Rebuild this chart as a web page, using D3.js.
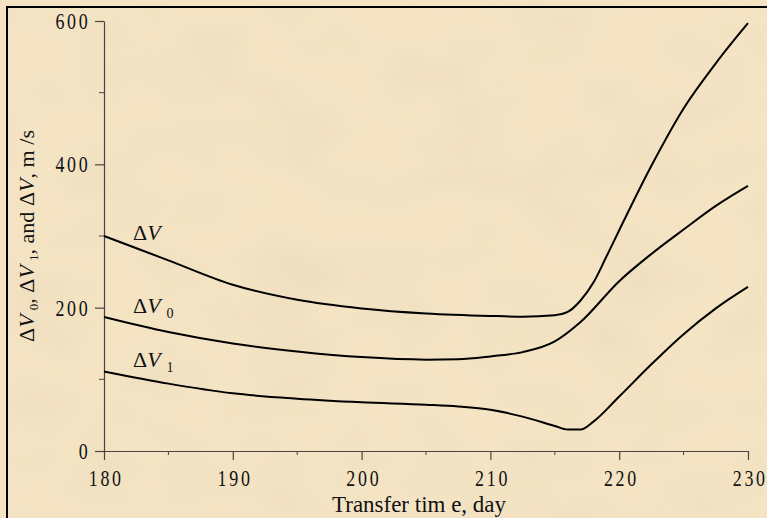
<!DOCTYPE html>
<html><head><meta charset="utf-8">
<script src="https://cdn.jsdelivr.net/npm/d3@7"></script>
<style>
html,body{margin:0;padding:0;background:#f2e2c2;}
svg{display:block;}
text{font-family:"Liberation Serif","Times New Roman",serif;fill:#111;}
</style></head>
<body>
<script>
// ---- data ----
const daysDV  = [180,185,190,195,200,205,210,212.5,215,216,217,218,219,220,222.5,225,227.5,230];
const valsDV  = [300,266,232,211,199,192,188.5,187.5,189.5,194,210,235,271,308,398,478,541,597];
const daysDV0 = [180,185,190,195,200,205,207.5,210,212.5,215,217,220,222.5,225,227.5,230];
const valsDV0 = [187,166,150,139,131,127.5,128,132,138,153,180,237,275,309,342,370];
const daysDV1 = [180,185,190,195,200,205,207.5,210,212.5,215,216,217,218,220,222.5,225,227.5,230];
const valsDV1 = [111,94,80.5,73,68,64.5,62,57.5,48,35,30,30,41,76,121,163,199,229];
const xTicks = [180,190,200,210,220,230];
const xMinor = [185,195,205,215,225];
const yTicks = [0,200,400,600];
const yMinor = [100,300,500];

const W=767,H=518;
const svg=d3.select("body").append("svg").attr("width",W).attr("height",H);

// background texture
const defs=svg.append("defs");
const f=defs.append("filter").attr("id","tex").attr("x",0).attr("y",0).attr("width","100%").attr("height","100%");
f.append("feTurbulence").attr("type","fractalNoise").attr("baseFrequency","0.012 0.02").attr("numOctaves",2).attr("seed",3).attr("result","n");
f.append("feColorMatrix").attr("in","n").attr("type","matrix")
 .attr("values","0 0 0 0 0.80  0 0 0 0 0.68  0 0 0 0 0.48  0 0 0 -1.6 0.9").attr("result","c");
f.append("feGaussianBlur").attr("in","c").attr("stdDeviation",4);
svg.append("rect").attr("width",W).attr("height",H).attr("fill","#f4e4c4");
svg.append("rect").attr("width",W).attr("height",H).attr("fill","#fff").attr("filter","url(#tex)").attr("opacity",0.6);

// border
svg.append("line").attr("x1",7).attr("x2",7).attr("y1",7).attr("y2",H).attr("stroke","#000").attr("stroke-width",2);
svg.append("line").attr("x1",6).attr("x2",W).attr("y1",7).attr("y2",7).attr("stroke","#000").attr("stroke-width",2);

const x=d3.scaleLinear().domain([180,230]).range([104,748]);
const y=d3.scaleLinear().domain([0,600]).range([451,21]);
const axisColor="#4a4440";
const sx=0.78;

// x axis
const gx=svg.append("g").attr("transform",`translate(0,${y(0)})`)
  .call(d3.axisBottom(x).tickValues(xTicks).tickSize(9).tickSizeOuter(0).tickPadding(10).tickFormat(d3.format("d")));
gx.append("g").selectAll("line").data(xMinor).join("line")
  .attr("x1",d=>x(d)).attr("x2",d=>x(d)).attr("y1",0).attr("y2",4).attr("stroke",axisColor);
// y axis
const gy=svg.append("g").attr("transform",`translate(${x(180)},0)`)
  .call(d3.axisLeft(y).tickValues(yTicks).tickSize(9).tickSizeOuter(0).tickPadding(8).tickFormat(d3.format("d")));
gy.append("g").selectAll("line").data(yMinor).join("line")
  .attr("y1",d=>y(d)).attr("y2",d=>y(d)).attr("x1",0).attr("x2",-5).attr("stroke",axisColor);
[gx,gy].forEach(g=>{
  g.selectAll(".domain").attr("stroke",axisColor).attr("stroke-width",1.2);
  g.selectAll(".tick line").attr("stroke",axisColor).attr("stroke-width",1.2);
  g.selectAll(".tick text").attr("font-size",23).attr("font-family","Liberation Serif").attr("fill","#111")
   .attr("letter-spacing",3.5)
   .attr("x",function(){return (+d3.select(this).attr("x")||0)/sx;})
   .attr("transform",`scale(${sx},1)`);
});
// compensate trailing letter-spacing for end/middle anchored labels
gy.selectAll(".tick text").attr("dx",3.5/sx);
gx.selectAll(".tick text").attr("dx",1.75/sx);

// curves
const line=d3.line().x(d=>x(d[0])).y(d=>y(d[1])).curve(d3.curveMonotoneX);
const series=[[daysDV,valsDV],[daysDV0,valsDV0],[daysDV1,valsDV1]];
series.forEach(([ds,vs])=>{
  svg.append("path").datum(ds.map((d,i)=>[d,vs[i]])).attr("d",line)
   .attr("fill","none").attr("stroke","#000").attr("stroke-width",2);
});

// curve labels
function dvLabel(xp,yp,sub){
  const t=svg.append("text").attr("x",xp).attr("y",yp).attr("font-size",22);
  t.append("tspan").text("Δ");
  t.append("tspan").attr("font-style","italic").text("V");
  if(sub) t.append("tspan").attr("font-size",14).attr("dx",6).attr("dy",5).text(sub);
}
dvLabel(133,240,null);
dvLabel(133,313,"0");
dvLabel(133,367,"1");

// axis titles
svg.append("text").attr("x",419).attr("y",512).attr("text-anchor","middle").attr("font-size",23)
  .attr("textLength",174).attr("lengthAdjust","spacingAndGlyphs").text("Transfer tim e, day");

const yl=svg.append("text").attr("transform","translate(34,236) rotate(-90)").attr("text-anchor","middle").attr("font-size",22)
  .attr("textLength",212).attr("lengthAdjust","spacingAndGlyphs");
yl.append("tspan").text("Δ");
yl.append("tspan").attr("font-style","italic").text("V");
yl.append("tspan").attr("font-size",13).attr("dy",4).attr("dx",4).text("0");
yl.append("tspan").attr("dy",-4).text(", Δ");
yl.append("tspan").attr("font-style","italic").text("V");
yl.append("tspan").attr("font-size",13).attr("dy",4).attr("dx",4).text("1");
yl.append("tspan").attr("dy",-4).text(", and Δ");
yl.append("tspan").attr("font-style","italic").text("V");
yl.append("tspan").text(", m /s");
</script>
</body></html>
